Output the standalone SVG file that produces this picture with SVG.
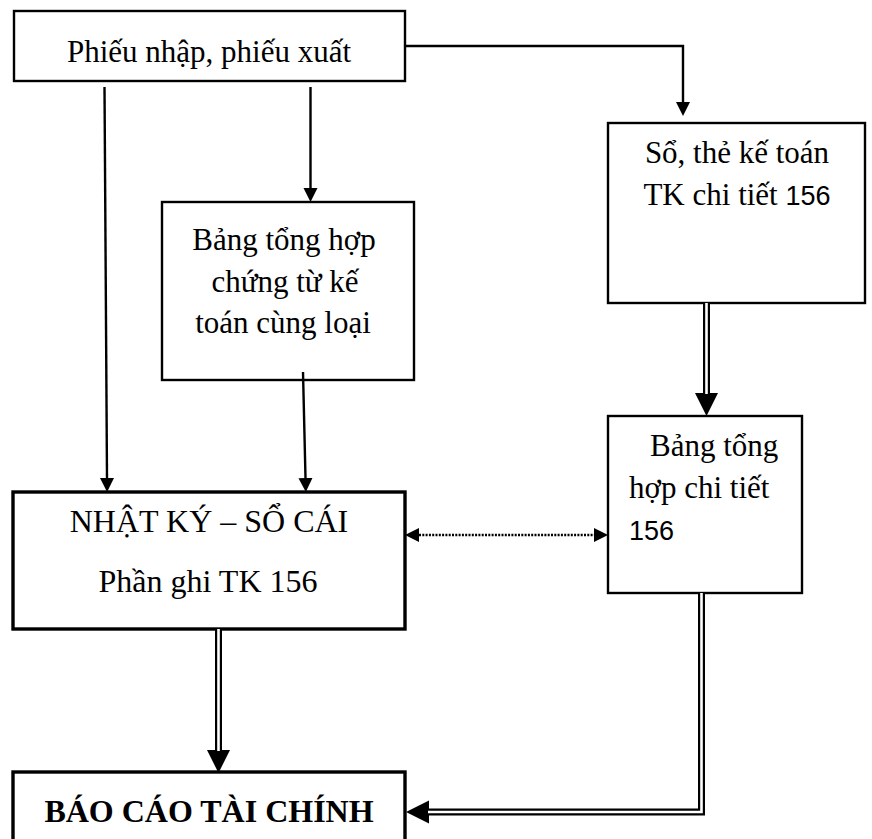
<svg xmlns="http://www.w3.org/2000/svg" width="872" height="839" viewBox="0 0 872 839">
  <style>
    .box { fill: #fff; stroke: #000; stroke-width: 2.4; }
    .box-thick { fill: #fff; stroke: #000; stroke-width: 3.4; }
    .t { font-family: "Liberation Serif", "Times New Roman", serif; font-size: 31px; fill: #000; }
    .tl { font-size: 32px; }
    .tb { font-family: "Liberation Serif", "Times New Roman", serif; font-size: 32px; font-weight: bold; fill: #000; }
    .num { font-family: "Liberation Sans", Arial, sans-serif; font-size: 27px; }
    .c { text-anchor: middle; }
    .link { fill: none; stroke: #000; stroke-width: 2.4; stroke-linejoin: miter; }
    .dotted { fill: none; stroke: #000; stroke-width: 2.6; stroke-dasharray: 2 1.3; }
    .dbl-outer { fill: none; stroke: #000; stroke-width: 7; stroke-linejoin: miter; }
    .dbl-inner { fill: none; stroke: #fff; stroke-width: 2.6; stroke-linejoin: miter; }
  </style>
  <defs>
    <marker id="head" markerUnits="userSpaceOnUse" markerWidth="15" markerHeight="15" refX="0" refY="7" orient="auto">
      <path d="M0,0 L14,7 L0,14 z" fill="#000"/>
    </marker>
    <marker id="head2" markerUnits="userSpaceOnUse" markerWidth="15" markerHeight="15" refX="0" refY="7" orient="auto-start-reverse">
      <path d="M0,0 L14,7 L0,14 z" fill="#000"/>
    </marker>
    <marker id="bighead" markerUnits="userSpaceOnUse" markerWidth="24" markerHeight="24" refX="0" refY="11.5" orient="auto">
      <path d="M0,0 L23,11.5 L0,23 z" fill="#000"/>
    </marker>
  </defs>

  <!-- boxes -->
  <g id="phieu">
    <rect class="box" x="14" y="11" width="391" height="70"/>
    <text class="t c" x="209" y="62">Phiếu nhập, phiếu xuất</text>
  </g>

  <g id="so-the">
    <rect class="box" x="608" y="123" width="257" height="180"/>
    <text class="t c" x="737" y="163">Sổ, thẻ kế toán</text>
    <text class="t c" x="737" y="205">TK chi tiết <tspan class="num">156</tspan></text>
  </g>

  <g id="bang-tong-hop">
    <rect class="box" x="162" y="202" width="252" height="178"/>
    <text class="t c" x="284" y="250">Bảng tổng hợp</text>
    <text class="t c" x="285" y="292">chứng từ kế</text>
    <text class="t c" x="283" y="333">toán cùng loại</text>
  </g>

  <g id="nhat-ky">
    <rect class="box-thick" x="13" y="492" width="392" height="137"/>
    <text class="t tl c" x="209" y="532">NHẬT KÝ – SỔ CÁI</text>
    <text class="t tl c" x="208" y="592">Phần ghi TK 156</text>
  </g>

  <g id="bang-chi-tiet">
    <rect class="box" x="608" y="416" width="194" height="177"/>
    <text class="t" x="650" y="456">Bảng tổng</text>
    <text class="t" x="629" y="498">hợp chi tiết</text>
    <text class="t num" x="629" y="540">156</text>
  </g>

  <g id="bao-cao">
    <rect class="box-thick" x="13" y="772" width="392" height="80"/>
    <text class="tb c" x="209" y="822">BÁO CÁO TÀI CHÍNH</text>
  </g>

  <!-- connectors -->
  <g id="connectors">
    <path class="link" d="M405,46 H683 V102" marker-end="url(#head)"/>
    <path class="link" d="M310.5,87 V188" marker-end="url(#head)"/>
    <path class="link" d="M104.5,87 L107,478" marker-end="url(#head)"/>
    <path class="link" d="M303,372 L305.5,478" marker-end="url(#head)"/>
    <path class="dotted" d="M419,535 H594" marker-start="url(#head2)" marker-end="url(#head2)"/>

    <path class="dbl-outer" d="M706.5,303 V393" marker-end="url(#bighead)"/>
    <path class="dbl-inner" d="M706.5,303 V394"/>

    <path class="dbl-outer" d="M218.5,629 V750" marker-end="url(#bighead)"/>
    <path class="dbl-inner" d="M218.5,629 V751"/>

    <path class="dbl-outer" d="M701.5,593 V812 H429" marker-end="url(#bighead)"/>
    <path class="dbl-inner" d="M701.5,593 V812 H428"/>
  </g>
</svg>
